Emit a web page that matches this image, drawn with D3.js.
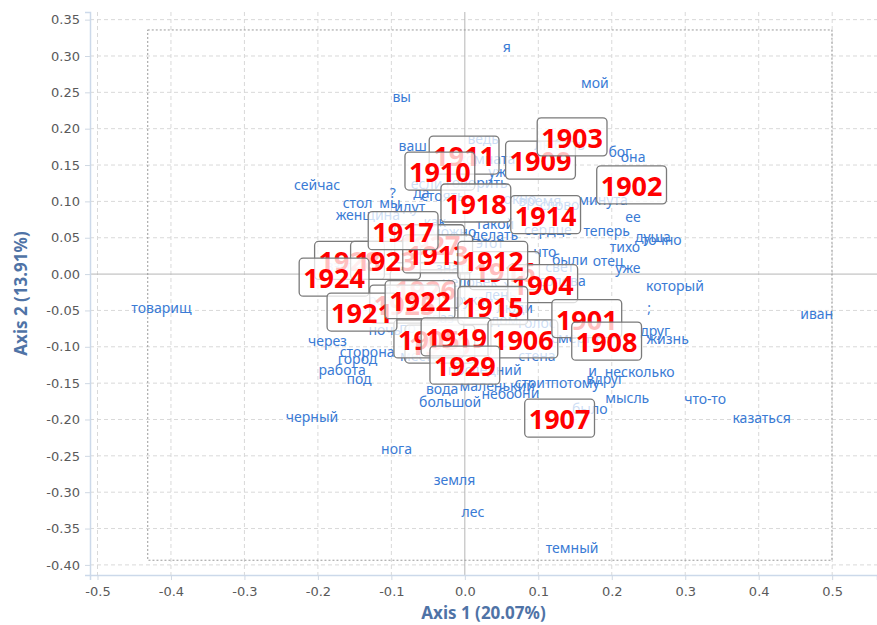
<!DOCTYPE html>
<html>
<head>
<meta charset="utf-8">
<script src="https://cdn.jsdelivr.net/npm/d3@7"></script>
<style>
  body { margin: 0; background: #fff; }
  svg { display: block; }
  .tick-label { font-family: "DejaVu Sans", Verdana, sans-serif; font-size: 13px; fill: #5a5a5a; }
  .axis-title { font-family: "Comic Sans MS", "Noto Sans", sans-serif; font-size: 17px; font-weight: bold; fill: #4f73a6; }
  .word { font-family: "Comic Sans MS", "Noto Sans", sans-serif; font-size: 14px; fill: #3a7bd5; }
  .year { font-family: "Comic Sans MS", "Noto Sans", sans-serif; font-size: 27px; font-weight: bold; fill: #ff0000; }
</style>
</head>
<body>
<svg id="chart" width="877" height="625"></svg>
<script>
// tick values
var xTicks = [-0.5, -0.4, -0.3, -0.2, -0.1, 0.0, 0.1, 0.2, 0.3, 0.4, 0.5];
var yTicks = [-0.40, -0.35, -0.30, -0.25, -0.20, -0.15, -0.10, -0.05, 0.00, 0.05, 0.10, 0.15, 0.20, 0.25, 0.30, 0.35];
var xTitle = 'Axis 1 (20.07%)';
var yTitle = 'Axis 2 (13.91%)';

// dashed extent box [x1, x2, y1, y2]
var extentBox = [-0.4316, 0.4997, 0.3358, -0.3936];

// column points (words)
var wordLabels = ['я', 'мой', 'вы', 'ваш', 'ведь', 'любить', 'комната', 'бог', 'она', 'уж',
  'сейчас', '?', 'стол', 'мы', 'да', 'идут', 'женщина', 'если', 'говорить', 'стоять',
  'минута', 'ее', 'теперь', 'душа', 'точно', 'тихо', 'отец', 'уже', 'что', 'были',
  'такой', 'делать', 'сердце', 'время', 'окно', 'слово', 'этот', 'свет', 'голова', 'который',
  ';', 'иван', 'друг', 'жизнь', 'и', 'несколько', 'вдруг', 'мысль', 'что-то', 'казаться',
  'было', 'потому', 'стоит', 'маленький', 'небо', 'они', 'последний', 'стена', 'голос', 'смерть',
  'вода', 'большой', 'черный', 'нога', 'земля', 'лес', 'темный', 'товарищ', 'через', 'сторона',
  'город', 'работа', 'под', 'по', 'взгляд', 'место', 'как', 'можно', 'человек', 'день',
  'рука', 'глаз', 'дом', 'люди', 'знать', 'сказать', 'раз', 'ночь', 'хотеть'];
var wordAxis1 = [0.057, 0.177, -0.086, -0.071, 0.025, 0.129, 0.030, 0.211, 0.229, 0.044,
  -0.201, -0.098, -0.146, -0.102, -0.059, -0.075, -0.132, -0.052, 0.016, -0.030,
  0.188, 0.229, 0.193, 0.256, 0.268, 0.218, 0.195, 0.222, 0.109, 0.143,
  0.041, 0.041, 0.113, 0.102, 0.075, 0.129, 0.034, 0.129, 0.133, 0.286,
  0.251, 0.479, 0.259, 0.276, 0.174, 0.238, 0.191, 0.221, 0.327, 0.404,
  0.170, 0.150, 0.093, 0.044, 0.045, 0.084, 0.027, 0.098, 0.098, 0.150,
  -0.031, -0.020, -0.208, -0.093, -0.014, 0.011, 0.146, -0.413, -0.187, -0.133,
  -0.146, -0.167, -0.144, -0.078, -0.159, -0.061, -0.041, -0.016, 0.007, 0.048,
  0.007, -0.034, 0.054, 0.068, -0.014, -0.075, -0.116, -0.109, 0.082];
var wordAxis2 = [0.312, 0.263, 0.244, 0.176, 0.186, 0.178, 0.158, 0.168, 0.161, 0.140,
  0.122, 0.111, 0.098, 0.098, 0.111, 0.092, 0.081, 0.124, 0.125, 0.107,
  0.102, 0.078, 0.059, 0.051, 0.047, 0.037, 0.018, 0.008, 0.030, 0.019,
  0.069, 0.054, 0.061, 0.100, 0.103, 0.095, 0.043, 0.010, -0.010, -0.017,
  -0.047, -0.055, -0.078, -0.089, -0.133, -0.135, -0.144, -0.171, -0.172, -0.198,
  -0.186, -0.150, -0.150, -0.154, -0.165, -0.164, -0.132, -0.113, -0.067, -0.088,
  -0.158, -0.176, -0.197, -0.241, -0.283, -0.328, -0.377, -0.047, -0.092, -0.107,
  -0.117, -0.132, -0.144, -0.074, 0.011, -0.113, 0.072, 0.058, -0.011, -0.029,
  -0.036, -0.061, -0.063, -0.047, 0.008, -0.022, -0.036, -0.077, -0.015];

// row points (years), in drawing order
var yearLabels = ['1928', '1927', '1926', '1925', '1920', '1916', '1923', '1905',
  '1911', '1910', '1909', '1903', '1902', '1918', '1914', '1913', '1917', '1924',
  '1921', '1922', '1904', '1912', '1915', '1919', '1906', '1901', '1908', '1929', '1907'];
var yearAxis1 = [-0.157, -0.048, -0.054, -0.082, -0.034, 0.054, -0.108, -0.049,
  -0.001, -0.034, 0.103, 0.146, 0.227, 0.015, 0.110, -0.037, -0.084, -0.178,
  -0.140, -0.061, 0.106, 0.038, 0.038, -0.012, 0.079, 0.166, 0.193, 0.000, 0.129];
var yearAxis2 = [0.017, 0.040, -0.022, -0.043, -0.098, 0.003, 0.017, -0.091,
  0.162, 0.140, 0.155, 0.187, 0.121, 0.096, 0.080, 0.026, 0.058, -0.006,
  -0.054, -0.037, -0.015, 0.017, -0.045, -0.088, -0.091, -0.063, -0.094, -0.127, -0.200];

(function () {
  var plotLeft = 90, plotRight = 877, plotTop = 12, plotBottom = 575;

  var x = d3.scaleLinear().domain([-0.5102, 0.561]).range([plotLeft, plotRight]);
  var y = d3.scaleLinear().domain([-0.4139, 0.3605]).range([plotBottom, plotTop]);

  var fmt = function (digits) {
    var f = d3.format('.' + digits + 'f');
    return function (d) { return f(d).replace('\u2212', '-'); };
  };

  var svg = d3.select('#chart');

  // grid
  var grid = svg.append('g');
  grid.selectAll('line.gx').data(xTicks.filter(function (d) { return d !== 0; }))
    .enter().append('line')
    .attr('x1', function (d) { return x(d); }).attr('x2', function (d) { return x(d); })
    .attr('y1', plotTop).attr('y2', plotBottom)
    .attr('stroke', '#d9d9d9').attr('stroke-dasharray', '4,3');
  grid.selectAll('line.gy').data(yTicks.filter(function (d) { return d !== 0; }))
    .enter().append('line')
    .attr('x1', plotLeft).attr('x2', plotRight)
    .attr('y1', function (d) { return y(d); }).attr('y2', function (d) { return y(d); })
    .attr('stroke', '#d9d9d9').attr('stroke-dasharray', '4,3');

  // zero lines
  grid.append('line').attr('x1', x(0)).attr('x2', x(0)).attr('y1', plotTop).attr('y2', plotBottom)
    .attr('stroke', '#b5b5b5');
  grid.append('line').attr('x1', plotLeft).attr('x2', plotRight).attr('y1', y(0)).attr('y2', y(0))
    .attr('stroke', '#b5b5b5');

  // dashed extent box
  grid.append('rect')
    .attr('x', x(extentBox[0])).attr('y', y(extentBox[2]))
    .attr('width', x(extentBox[1]) - x(extentBox[0]))
    .attr('height', y(extentBox[3]) - y(extentBox[2]))
    .attr('fill', 'none').attr('stroke', '#9a9a9a').attr('stroke-dasharray', '2,2');

  // axes
  var xAxis = svg.append('g').attr('transform', 'translate(0,' + plotBottom + ')')
    .call(d3.axisBottom(x).tickValues(xTicks).tickFormat(fmt(1)).tickSize(5).tickPadding(7));
  var yAxis = svg.append('g').attr('transform', 'translate(' + plotLeft + ',0)')
    .call(d3.axisLeft(y).tickValues(yTicks).tickFormat(fmt(2)).tickSize(5).tickPadding(5));
  [xAxis, yAxis].forEach(function (a) {
    a.attr('font-family', null).attr('font-size', null);
    a.select('.domain').attr('stroke', '#ccd9ea').attr('stroke-width', 1.5);
    a.selectAll('.tick line').attr('stroke', '#cfd8e3');
    a.selectAll('.tick text').attr('class', 'tick-label').attr('fill', null);
  });

  svg.append('text').attr('class', 'axis-title')
    .attr('x', (plotLeft + plotRight) / 2).attr('y', 619).attr('text-anchor', 'middle')
    .text(xTitle);
  svg.append('text').attr('class', 'axis-title')
    .attr('transform', 'translate(27,' + ((plotTop + plotBottom) / 2) + ') rotate(-90)')
    .attr('text-anchor', 'middle')
    .text(yTitle);

  // word labels
  svg.append('g').selectAll('text').data(wordLabels).enter().append('text')
    .attr('class', 'word')
    .attr('x', function (d, i) { return x(wordAxis1[i]); })
    .attr('y', function (d, i) { return y(wordAxis2[i]); })
    .attr('dy', '0.35em')
    .attr('text-anchor', 'middle')
    .text(function (d) { return d; });

  // year labels with boxes
  var years = svg.append('g');
  yearLabels.forEach(function (label, i) {
    var g = years.append('g');
    var rect = g.append('rect');
    var t = g.append('text').attr('class', 'year')
      .attr('x', x(yearAxis1[i])).attr('y', y(yearAxis2[i]))
      .attr('dy', '0.36em').attr('text-anchor', 'middle')
      .text(label);
    var b = t.node().getBBox();
    rect.attr('x', b.x - 4).attr('y', b.y - 1)
      .attr('width', b.width + 8).attr('height', b.height + 1)
      .attr('rx', 4).attr('ry', 4)
      .attr('fill', '#fff').attr('fill-opacity', 0.75)
      .attr('stroke', '#7a7a7a').attr('stroke-width', 1.3);
  });
})();
</script>
</body>
</html>
